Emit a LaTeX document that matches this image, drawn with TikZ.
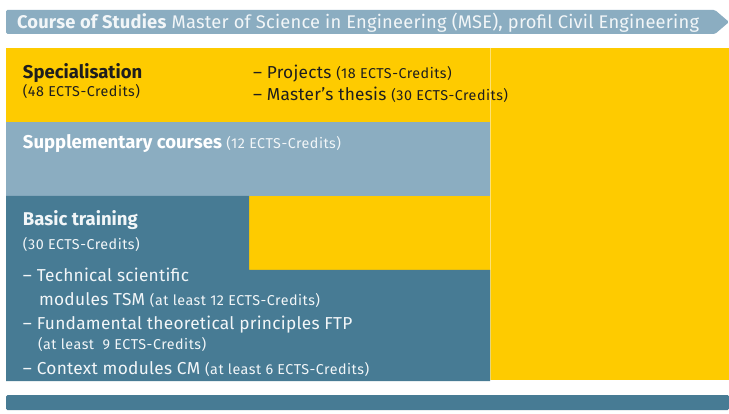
\documentclass[tikz,border=0pt]{standalone}
\usepackage{fontspec}
\setmainfont{Fira Sans}
\newfontfamily\bigfam[LetterSpace=1.5]{Fira Sans}
\newfontfamily\smallfam[LetterSpace=3.5]{Fira Sans}
\newfontfamily\headfam[LetterSpace=1.2]{Fira Sans}
\definecolor{hdr}{HTML}{8BADC1}
\definecolor{ylw}{HTML}{FECB00}
\definecolor{teal}{HTML}{477B94}
\definecolor{lite}{HTML}{F2F6F8}
\definecolor{dark}{HTML}{1E1E1E}
\newcommand{\smallcr}{\smallfam\fontsize{14.3}{16}\selectfont}
\tikzset{
  txt/.style={anchor=base west, inner sep=0pt, outer sep=0pt},
  big/.style={font=\bigfam\fontsize{17.3}{20}\selectfont},
  small/.style={font=\smallcr},
  bold/.style={font=\fontsize{18.5}{20}\selectfont\bfseries},
}
\begin{document}
\begin{tikzpicture}[x=1pt,y=-1pt]
\useasboundingbox (0,0) rectangle (729,414);
\fill[white] (0,0) rectangle (729,414);
% header banner
\fill[hdr, rounded corners=1.5pt] (6,10) -- (715,10) -- (729,22) -- (715,34) -- (6,34) -- cycle;
\node[txt, text=lite, font=\headfam\fontsize{18.3}{20}\selectfont] (head) at (17,28.5)
  {\textbf{Course of Studies} Master of Science in Engineering (MSE), profil Civil Engineering};
% yellow background
\fill[ylw] (6,48) rectangle (729,380);
\draw[ylw!55!white, line width=0.6pt] (490,48) -- (490,380);
% supplementary
\fill[hdr] (6,122) rectangle (490,196);
% basic training
\fill[teal] (6,196) -- (249,196) -- (249,270) -- (490,270) -- (490,381) -- (6,381) -- cycle;
% bottom bar
\fill[teal, rounded corners=1.5pt] (6,395) -- (729,395) -- (729,410) -- (6,410) -- cycle;
% texts
\node[txt, text=dark, bold] (spec) at (23,79) {Specialisation};
\node[txt, text=dark, small] (specc) at (23,97) {(48 ECTS-Credits)};
\node[txt, text=dark, big] (proj) at (253,79) {– Projects {\smallcr(18 ECTS-Credits)}};
\node[txt, text=dark, big] (thes) at (253,101) {– Master’s thesis {\smallcr(30 ECTS-Credits)}};
\node[txt, text=white, bold] (supp) at (23,149)
  {Supplementary courses {\mdseries\smallcr\color{lite}(12 ECTS-Credits)}};
\node[txt, text=lite, bold] (basic) at (23,226) {Basic training};
\node[txt, text=lite, small] (basicc) at (23,250) {(30 ECTS-Credits)};
\node[txt, text=lite, big] (tsm1) at (23,282) {– Technical scientific};
\node[txt, text=lite, big] (tsm2) at (39,306) {modules TSM {\smallcr(at least 12 ECTS-Credits)}};
\node[txt, text=lite, big] (ftp1) at (23,330) {– Fundamental theoretical principles FTP};
\node[txt, text=lite, small] (ftp2) at (38,349) {(at least \ 9 ECTS-Credits)};
\node[txt, text=lite, big] (cm) at (23,374) {– Context modules CM {\smallcr(at least 6 ECTS-Credits)}};
\end{tikzpicture}
\end{document}
